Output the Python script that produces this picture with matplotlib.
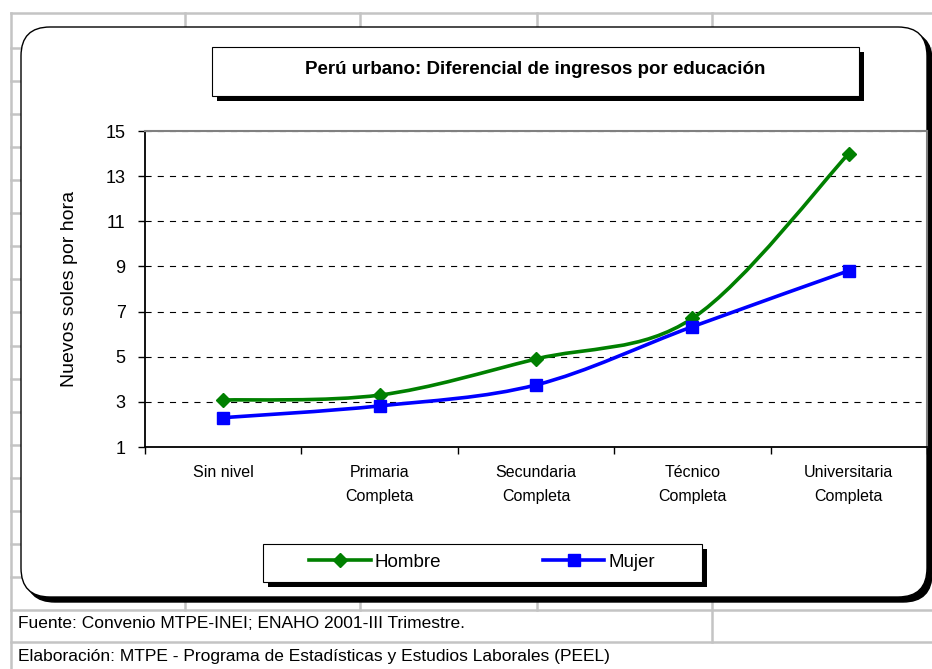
import matplotlib
matplotlib.use("Agg")
import matplotlib.pyplot as plt
import numpy as np
from matplotlib.path import Path
from matplotlib.patches import PathPatch, FancyBboxPatch, Rectangle
from matplotlib.lines import Line2D

plt.rcParams['font.family'] = ['Liberation Sans', 'DejaVu Sans']

# data
categories = ['Sin nivel', 'Primaria\nCompleta', 'Secundaria\nCompleta',
              'Técnico\nCompleta', 'Universitaria\nCompleta']
hombre = [3.08, 3.30, 4.90, 6.70, 14.0]
mujer = [2.30, 2.82, 3.75, 6.33, 8.81]
y_ticks = [1, 3, 5, 7, 9, 11, 13, 15]

title = 'Perú urbano: Diferencial de ingresos por educación'
ylabel = 'Nuevos soles por hora'
fuente = 'Fuente: Convenio MTPE-INEI; ENAHO 2001-III Trimestre.'
elaboracion = 'Elaboración: MTPE - Programa de Estadísticas y Estudios Laborales (PEEL)'

W, H = 932, 669


def smooth_path(xs, ys):
    # Excel-like smoothed line: Catmull-Rom as cubic Bezier segments
    pts = np.column_stack([xs, ys])
    n = len(pts)
    verts = [pts[0]]
    codes = [Path.MOVETO]
    for i in range(n - 1):
        p0 = pts[max(i - 1, 0)]
        p1 = pts[i]
        p2 = pts[i + 1]
        p3 = pts[min(i + 2, n - 1)]
        verts += [p1 + (p2 - p0) / 6, p2 - (p3 - p1) / 6, p2]
        codes += [Path.CURVE4] * 3
    return Path(verts, codes)


fig = plt.figure(figsize=(W / 100, H / 100), dpi=100)

# background: spreadsheet cells, chart frame, title box, legend box (pixel coords)
bg = fig.add_axes([0, 0, 1, 1], zorder=0)
bg.set_xlim(0, W)
bg.set_ylim(H, 0)
bg.axis('off')

grid_c = '#c4c4c4'
rows = [13] + list(48 + 33.06 * np.arange(18)) + [642]
for r in rows:
    bg.plot([11, W], [r, r], color=grid_c, lw=1.8, zorder=1)
bg.plot([11, 11], [13, H], color=grid_c, lw=1.8, zorder=1)
for c in [185, 360, 537]:
    bg.plot([c, c], [13, 610], color=grid_c, lw=1.8, zorder=1)
bg.plot([712, 712], [13, 642], color=grid_c, lw=1.8, zorder=1)

# chart frame with shadow
bg.add_patch(FancyBboxPatch((26, 32), 906, 570, boxstyle='round,pad=0,rounding_size=29',
                            facecolor='black', edgecolor='black', zorder=2))
bg.add_patch(FancyBboxPatch((21, 27), 906, 570, boxstyle='round,pad=0,rounding_size=29',
                            facecolor='white', edgecolor='black', lw=1.0, zorder=3))

# title box with shadow
bg.add_patch(Rectangle((217, 52), 647, 49, facecolor='black', zorder=4))
bg.add_patch(Rectangle((212, 47), 647, 49, facecolor='white', edgecolor='black',
                       lw=0.8, zorder=5))
bg.text(535, 69, title, ha='center', va='center', fontsize=13.5,
        fontweight='bold', zorder=6)

# legend box with shadow
bg.add_patch(Rectangle((268, 549), 439, 38, facecolor='black', zorder=4))
bg.add_patch(Rectangle((263, 544), 439, 38, facecolor='white', edgecolor='black',
                       lw=0.8, zorder=5))

# footer
bg.text(18, 624, fuente, ha='left', va='center', fontsize=12.5, zorder=6)
bg.text(18, 657, elaboracion, ha='left', va='center', fontsize=12.5, zorder=6)

# plot area
ax = fig.add_axes([145 / W, 1 - 447 / H, (927 - 145) / W, (447 - 131) / H], zorder=2)
x = np.arange(len(categories)) + 0.5

ax.add_patch(PathPatch(smooth_path(x, hombre), fill=False, edgecolor='#008000',
                       lw=2.6, zorder=3))
ax.plot(x, hombre, ls='none', marker='D', ms=7.5, color='#008000', zorder=4)
ax.add_patch(PathPatch(smooth_path(x, mujer), fill=False, edgecolor='#0000ff',
                       lw=2.6, zorder=5))
ax.plot(x, mujer, ls='none', marker='s', ms=8.5, color='#0000ff', zorder=6)

ax.set_xlim(0, len(categories))
ax.set_ylim(1, 15)
ax.set_yticks(y_ticks)
ax.set_xticks(np.arange(len(categories) + 1))
ax.set_xticklabels([])
ax.set_xticks(x, minor=True)
ax.set_xticklabels(categories, minor=True, fontsize=11.5, linespacing=1.75)
ax.tick_params(axis='x', which='minor', length=0, pad=13)
ax.tick_params(axis='x', which='major', length=5, width=1, direction='out')
ax.tick_params(axis='y', length=5, width=1, direction='out', pad=9, labelsize=13)

ax.set_axisbelow(True)
ax.yaxis.grid(True, color='black', lw=0.8, linestyle=(0, (5.5, 5.5)))
for s in ['left', 'bottom']:
    ax.spines[s].set_color('black')
    ax.spines[s].set_linewidth(1.3)
for s in ['top', 'right']:
    ax.spines[s].set_color('#808080')
    ax.spines[s].set_linewidth(1.5)

ax.set_ylabel(ylabel, fontsize=14)
ax.yaxis.label.set_va('center')
ax.yaxis.set_label_coords(-0.097, 0.5)

handles = [Line2D([], [], color='#008000', lw=2.6, marker='D', ms=7.5),
           Line2D([], [], color='#0000ff', lw=2.6, marker='s', ms=8.5)]
fig.legend(handles=handles, labels=['Hombre', 'Mujer'], loc='center',
           bbox_to_anchor=(482 / W, 1 - 562 / H), ncol=2, frameon=False,
           fontsize=13.5, handlelength=3.3, handletextpad=0.2, columnspacing=5.4)

fig.savefig('out.png', dpi=100)
